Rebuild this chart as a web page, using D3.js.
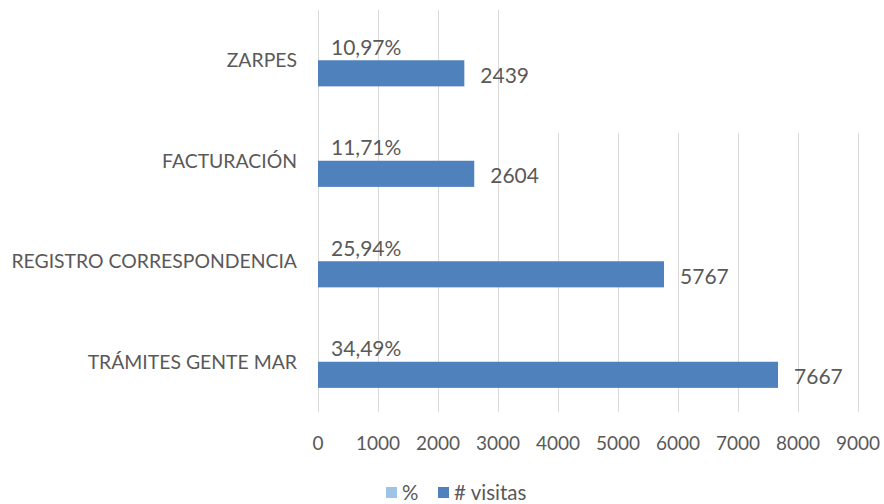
<!DOCTYPE html>
<meta charset="utf-8">
<head>
  <style>
    body { margin: 0; background: #fff; }
    svg text { font-family: Lato, "Open Sans", sans-serif; fill: #595959; }
    .grid line { stroke: #d9d9d9; stroke-width: 1; }
    .grid path { display: none; }
  </style>
  <script src="https://cdn.jsdelivr.net/npm/d3@7"></script>
</head>
<body>
  <svg width="884" height="504"></svg>
  <script>
    var categories = ["ZARPES", "FACTURACIÓN", "REGISTRO CORRESPONDENCIA", "TRÁMITES GENTE MAR"];
    var visitas = [2439, 2604, 5767, 7667];
    var porcentaje = [10.97, 11.71, 25.94, 34.49];
    var ticks = [0, 1000, 2000, 3000, 4000, 5000, 6000, 7000, 8000, 9000];
    var seriesNames = ["%", "# visitas"];

    var colors = ["#9dc3e6", "#4f81bd"];

    var svg = d3.select("svg");
    var margin = {left: 318, right: 26, top: 10, bottom: 92};
    var width = 884 - margin.left - margin.right,
        height = 504 - margin.top - margin.bottom;

    var x = d3.scaleLinear().domain([0, 9000]).range([0, width]);
    var y = d3.scaleBand().domain(categories).range([0, height]).paddingInner(0.48).paddingOuter(0.24);
    var ySub = d3.scaleBand().domain(seriesNames).range([0, y.bandwidth()]);

    var g = svg.append("g").attr("transform", "translate(" + margin.left + "," + margin.top + ")");

    // gridlines
    g.append("g")
      .attr("class", "grid")
      .call(d3.axisBottom(x).tickValues(ticks).tickSize(height).tickFormat(""));

    // empty title box over the top right (hides grid there)
    svg.append("rect")
      .attr("x", 540).attr("y", 0)
      .attr("width", 344).attr("height", 133)
      .attr("fill", "#fff");

    // x tick labels
    g.selectAll(".xlab")
      .data(ticks)
      .enter().append("text")
      .attr("x", function(d) { return x(d); })
      .attr("y", height + 38)
      .attr("text-anchor", "middle")
      .style("font-size", "19px")
      .text(function(d) { return d; });

    // category labels
    g.selectAll(".cat")
      .data(categories)
      .enter().append("text")
      .attr("x", -21)
      .attr("y", function(d) { return y(d) + y.bandwidth() / 2; })
      .attr("dy", "0.35em")
      .attr("text-anchor", "end")
      .style("font-size", "19.4px")
      .text(function(d) { return d; });

    // % series (values as fractions, so bars are ~0 wide)
    g.selectAll(".pct")
      .data(categories)
      .enter().append("rect")
      .attr("x", 0)
      .attr("y", function(d) { return y(d) + ySub("%"); })
      .attr("width", function(d, i) { return x(porcentaje[i] / 100); })
      .attr("height", ySub.bandwidth())
      .attr("fill", colors[0]);

    g.selectAll(".pctlab")
      .data(categories)
      .enter().append("text")
      .attr("x", function(d, i) { return x(porcentaje[i] / 100) + 13; })
      .attr("y", function(d) { return y(d) + ySub("%") + ySub.bandwidth() / 2; })
      .attr("dy", "0.35em")
      .style("font-size", "21px")
      .text(function(d, i) { return porcentaje[i].toFixed(2).replace(".", ",") + "%"; });

    // # visitas series
    g.selectAll(".vis")
      .data(categories)
      .enter().append("rect")
      .attr("x", 0)
      .attr("y", function(d) { return y(d) + ySub("# visitas"); })
      .attr("width", function(d, i) { return x(visitas[i]); })
      .attr("height", ySub.bandwidth())
      .attr("fill", colors[1]);

    g.selectAll(".vislab")
      .data(categories)
      .enter().append("text")
      .attr("x", function(d, i) { return x(visitas[i]) + 16; })
      .attr("y", function(d) { return y(d) + ySub("# visitas") + ySub.bandwidth() / 2 + 2; })
      .attr("dy", "0.35em")
      .style("font-size", "21px")
      .text(function(d, i) { return visitas[i]; });

    // legend
    var legend = svg.append("g").attr("transform", "translate(386,492)");
    var lx = [0, 52];
    seriesNames.forEach(function(s, i) {
      legend.append("rect")
        .attr("x", lx[i]).attr("y", -5)
        .attr("width", 11).attr("height", 11)
        .attr("fill", colors[i]);
      legend.append("text")
        .attr("x", lx[i] + 16).attr("y", 1)
        .attr("dy", "0.35em")
        .style("font-size", "20.5px")
        .text(s);
    });
  </script>
</body>
